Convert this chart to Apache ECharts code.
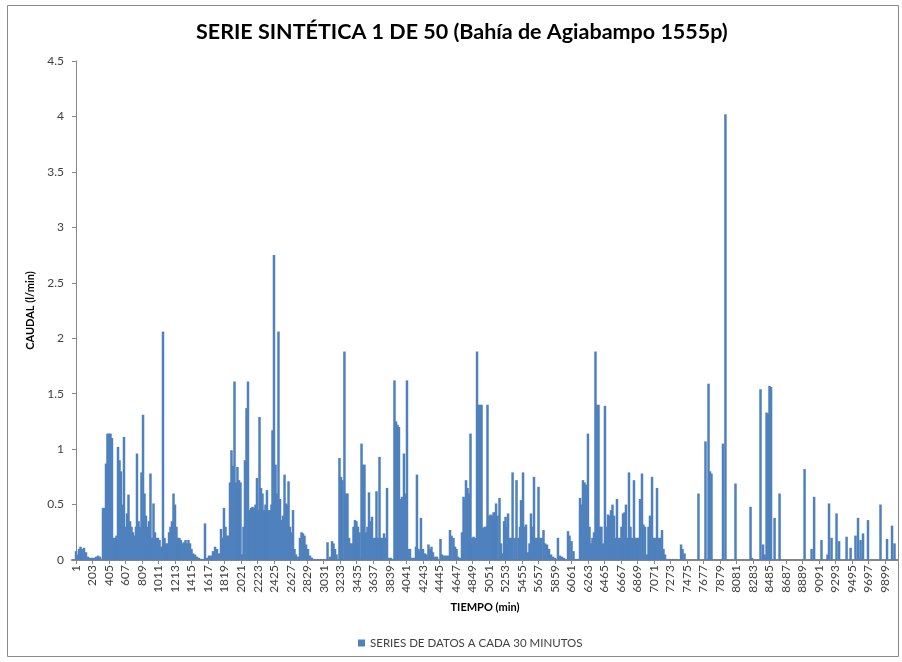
<!DOCTYPE html>
<html>
<head>
<meta charset="utf-8">
<script src="https://cdn.jsdelivr.net/npm/echarts@6/dist/echarts.min.js"></script>
<style>
  html, body { margin: 0; padding: 0; background: #fff; }
  #chart { width: 902px; height: 662px; }
</style>
</head>
<body>
<div id="chart"></div>
<script>
// etiquetas del eje de tiempo (cada 202 datos)
const etiquetasX = [1, 203, 405, 607, 809, 1011, 1213, 1415, 1617, 1819, 2021, 2223, 2425, 2627,
  2829, 3031, 3233, 3435, 3637, 3839, 4041, 4243, 4445, 4647, 4849, 5051, 5253, 5455, 5657, 5859,
  6061, 6263, 6465, 6667, 6869, 7071, 7273, 7475, 7677, 7879, 8081, 8283, 8485, 8687, 8889, 9091,
  9293, 9495, 9697, 9899]

// tiempo (indice del dato)
const tiempo = [1, 13, 38, 56, 74, 99, 123, 148, 172, 197, 221, 246, 270, 295,
  331, 350, 368, 386, 405, 423, 441, 460, 478, 496, 515, 533, 551, 570, 588, 606, 625, 643, 662, 680, 698, 717,
  735, 747, 766, 784, 802, 821, 839, 857, 876, 894, 912, 931, 949, 967, 986, 1004, 1023, 1041, 1065, 1084,
  1102, 1120, 1139, 1157, 1175, 1194, 1212, 1230, 1249, 1267, 1285, 1304, 1322, 1341, 1359, 1377, 1396, 1414,
  1432, 1457, 1481, 1506, 1530, 1555, 1579, 1604, 1628, 1653, 1677, 1702, 1726, 1750,
  1775, 1793, 1811, 1830, 1848, 1866, 1885, 1903, 1921, 1940, 1958, 1976, 1995, 2013, 2031, 2050, 2068, 2087,
  2105, 2123, 2142, 2160, 2178, 2197, 2215, 2233, 2246, 2264, 2282, 2301, 2319, 2337, 2356, 2374, 2392, 2405,
  2423, 2442, 2460, 2478, 2497, 2515, 2533, 2552, 2570, 2588, 2601, 2619, 2637, 2656, 2674, 2692, 2717, 2741,
  2760, 2778, 2796, 2815, 2839, 2864, 2888, 2925, 2962, 2998, 3035, 3078, 3109, 3133, 3151, 3170, 3188,
  3224, 3243, 3261, 3285, 3304, 3322, 3341, 3359, 3377, 3396, 3414, 3432, 3451, 3469, 3494, 3512, 3530, 3549,
  3567, 3585, 3604, 3622, 3640, 3659, 3677, 3696, 3714, 3732, 3751, 3769, 3793, 3806, 3830, 3855,
  3897, 3916, 3934, 3952, 3971, 3989, 4013, 4032, 4050, 4068, 4087, 4111, 4136, 4160, 4172, 4191, 4209, 4221,
  4246, 4270, 4289, 4313, 4332, 4350, 4368, 4393, 4417, 4460, 4478, 4503, 4527, 4552, 4576, 4595, 4619, 4638,
  4656, 4674, 4699, 4723, 4742, 4760, 4772, 4791, 4809, 4827, 4846, 4864, 4882, 4907, 4925, 4944, 4962, 4980,
  4999, 5017, 5035, 5054, 5072, 5091, 5109, 5127, 5140, 5158, 5182, 5201, 5213, 5238, 5256, 5274, 5287, 5311,
  5329, 5342, 5366, 5390, 5415, 5433, 5445, 5470, 5488, 5506, 5531, 5549, 5567, 5586, 5604, 5623, 5641, 5659,
  5678, 5696, 5720, 5739, 5763, 5788, 5812, 5836, 5861, 5897, 5922, 5946, 5971, 6020, 6038, 6063, 6087, 6118,
  6142, 6167, 6185, 6203, 6222, 6240, 6264, 6283, 6301, 6319, 6338, 6356, 6374, 6393, 6411, 6429, 6448, 6472,
  6491, 6509, 6527, 6546, 6564, 6583, 6601, 6619, 6638, 6656, 6674, 6693, 6711, 6729, 6748, 6766, 6784, 6803,
  6827, 6846, 6864, 6882, 6901, 6925, 6943, 6962, 6986, 7005, 7023, 7048, 7066, 7084, 7109, 7127, 7146, 7170,
  7188, 7207, 7231, 7268, 7305, 7341, 7403, 7421, 7445, 7616, 7702, 7739, 7757, 7775, 7916, 7946, 8069, 8253,
  8271, 8375, 8406, 8425, 8449, 8467, 8485, 8504, 8547, 8608, 8914, 9000, 9031, 9121, 9195, 9213, 9244, 9305,
  9336, 9428, 9477, 9537, 9568, 9599, 9629, 9690, 9843, 9923, 9984, 10014]

// caudal (l/min)
const caudal = [0.08, 0.05, 0.1, 0.12, 0.1, 0.11, 0.07, 0.03, 0.02, 0.02, 0.02, 0.03, 0.04, 0.03,
  0.47, 0.47, 0.87, 1.14, 1.14, 1.14, 1.1, 0.2, 0.2, 0.22, 1.02, 0.9, 0.8, 0.5, 1.11, 0.3, 0.42, 0.59, 0.35, 0.3, 0.25, 0.22,
  0.3, 0.96, 0.35, 0.3, 0.79, 1.31, 0.6, 0.4, 0.3, 0.35, 0.78, 0.2, 0.51, 0.25, 0.2, 0.2, 0.18, 0.12, 2.06, 0.2,
  0.15, 0.15, 0.25, 0.3, 0.35, 0.6, 0.5, 0.3, 0.2, 0.2, 0.18, 0.15, 0.16, 0.18, 0.15, 0.18, 0.15, 0.1,
  0.06, 0.05, 0.03, 0.02, 0.01, 0.01, 0.33, 0.02, 0.04, 0.04, 0.08, 0.12, 0.1, 0.06,
  0.28, 0.2, 0.47, 0.3, 0.22, 0.22, 0.7, 0.99, 0.85, 1.61, 0.7, 0.84, 0.72, 0.7, 0.05, 0.3, 0.9, 1.37,
  1.61, 0.45, 0.47, 0.48, 0.47, 0.5, 0.74, 0.45, 1.29, 0.65, 0.6, 0.45, 0.5, 0.63, 0.45, 0.45, 0.5, 1.17,
  2.75, 0.86, 0.6, 2.06, 0.55, 0.36, 0.4, 0.77, 0.51, 0.5, 0.71, 0.3, 0.25, 0.45, 0.1, 0.05, 0.03, 0.2,
  0.25, 0.24, 0.22, 0.14, 0.1, 0.04, 0.02, 0.01, 0.01, 0.01, 0.01, 0.16, 0.03, 0.17, 0.15, 0.1, 0.05,
  0.92, 0.75, 0.72, 1.88, 0.6, 0.6, 0.2, 0.15, 0.15, 0.3, 0.36, 0.35, 0.3, 0.25, 1.05, 0.86, 0.86, 0.25,
  0.3, 0.61, 0.35, 0.39, 0.2, 0.2, 0.62, 0.2, 0.93, 0.2, 0.2, 0.24, 0.2, 0.65, 0.02, 0.02,
  1.62, 1.25, 1.22, 1.2, 0.55, 0.57, 0.96, 0.6, 1.62, 0.1, 0.1, 0.02, 0.02, 0.12, 0.77, 0.1, 0.08, 0.38,
  0.1, 0.06, 0.05, 0.14, 0.1, 0.12, 0.07, 0.03, 0.03, 0.19, 0.05, 0.04, 0.04, 0.04, 0.27, 0.22, 0.2, 0.12,
  0.1, 0.03, 0.02, 0.25, 0.57, 0.55, 0.72, 0.65, 0.6, 1.14, 0.2, 0.21, 0.2, 1.88, 1.4, 1.4, 1.4, 0.29,
  0.3, 0.3, 1.4, 0.4, 0.41, 0.4, 0.43, 0.43, 0.51, 0.4, 0.56, 0.15, 0.06, 0.35, 0.39, 0.3, 0.42, 0.2,
  0.2, 0.79, 0.2, 0.72, 0.2, 0.3, 0.54, 0.79, 0.3, 0.32, 0.07, 0.15, 0.42, 0.3, 0.75, 0.2, 0.2, 0.66,
  0.2, 0.2, 0.27, 0.15, 0.14, 0.1, 0.05, 0.03, 0.02, 0.2, 0.04, 0.03, 0.02, 0.26, 0.22, 0.17, 0.08, 0.01,
  0.01, 0.56, 0.5, 0.72, 0.7, 0.68, 1.14, 0.3, 0.15, 0.2, 0.25, 1.88, 1.4, 1.4, 0.3, 0.3, 0.15, 1.39,
  0.3, 0.41, 0.4, 0.45, 0.5, 0.4, 0.2, 0.55, 0.2, 0.2, 0.3, 0.42, 0.43, 0.5, 0.2, 0.79, 0.3, 0.2,
  0.72, 0.2, 0.2, 0.2, 0.55, 0.78, 0.32, 0.3, 0.05, 0.3, 0.4, 0.75, 0.2, 0.2, 0.65, 0.2, 0.2, 0.27,
  0.1, 0.05, 0.01, 0.01, 0.01, 0.01, 0.14, 0.1, 0.06, 0.6, 1.07, 1.59, 0.8, 0.78, 1.05, 4.02, 0.69, 0.48,
  0.02, 1.54, 0.14, 0.05, 1.33, 1.32, 1.57, 1.56, 0.38, 0.6, 0.82, 0.1, 0.57, 0.18, 0.05, 0.51, 0.2, 0.42,
  0.17, 0.21, 0.11, 0.22, 0.38, 0.18, 0.24, 0.36, 0.5, 0.19, 0.31, 0.15]

const datos = tiempo.map((t, i) => [t, caudal[i]])

const fuente = 'Lato, "Open Sans", sans-serif'
let myChart = echarts.init(document.getElementById('chart'))

const option = {
    animation: false,
    backgroundColor: '#ffffff',
    textStyle: { fontFamily: fuente },
    title: {
        text: 'SERIE SINTÉTICA 1 DE 50 (Bahía de Agiabampo 1555p)',
        left: 196,
        top: 21,
        padding: 0,
        textStyle: { fontFamily: fuente, fontSize: 21.5, fontWeight: 'bold', color: '#000' }
    },
    legend: {
        bottom: 8,
        left: 353,
        icon: 'rect',
        itemWidth: 7,
        itemHeight: 7,
        itemGap: 4,
        textStyle: { fontFamily: fuente, fontSize: 11.5, color: '#404040' },
        data: ['SERIES DE DATOS A CADA 30 MINUTOS']
    },
    grid: { left: 72, right: 4, top: 61, bottom: 102 },
    xAxis: {
        type: 'value',
        min: -48,
        max: 10057,
        name: 'TIEMPO (min)',
        nameLocation: 'middle',
        nameGap: 42,
        nameTextStyle: { fontFamily: fuente, fontSize: 11, fontWeight: 'bold', color: '#000' },
        axisLine: { show: true, lineStyle: { color: '#868686', width: 2 } },
        axisTick: { show: true, customValues: etiquetasX, length: 4, lineStyle: { color: '#868686' } },
        axisLabel: {
            customValues: etiquetasX, rotate: 90, fontSize: 12, color: '#404040', margin: 5,
            formatter: v => String(v)
        },
        splitLine: { show: false }
    },
    yAxis: {
        type: 'value',
        min: 0,
        max: 4.5,
        interval: 0.5,
        name: 'CAUDAL (l/min)',
        nameLocation: 'middle',
        nameGap: 32,
        nameTextStyle: { fontFamily: fuente, fontSize: 11, fontWeight: 'bold', color: '#000' },
        axisLine: { show: true, lineStyle: { color: '#868686' } },
        axisTick: { show: true, length: 4, lineStyle: { color: '#868686' } },
        axisLabel: { fontSize: 12, color: '#404040', margin: 8 },
        splitLine: { show: false }
    },
    graphic: [{
        type: 'rect',
        shape: { x: 7.5, y: 5.5, width: 891, height: 651 },
        style: { fill: 'none', stroke: '#8a8a8a', lineWidth: 1 },
        silent: true
    }],
    series: [{
        name: 'SERIES DE DATOS A CADA 30 MINUTOS',
        type: 'bar',
        barWidth: 2.5,
        itemStyle: { color: '#4F81BD' },
        data: datos
    }]
}

myChart.setOption(option)
</script>
</body>
</html>
